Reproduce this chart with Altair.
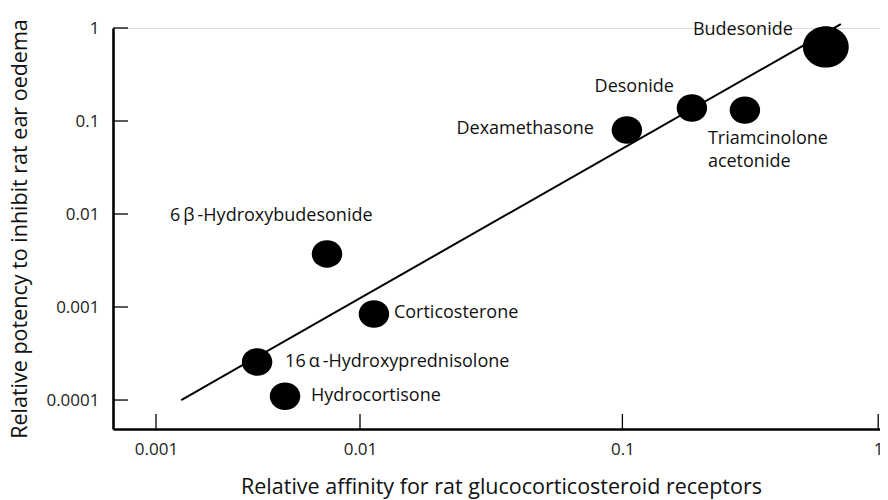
import altair as alt
import pandas as pd

# ---- data ----
compounds = [
    "Budesonide", "Desonide", "Triamcinolone acetonide", "Dexamethasone",
    "6β-Hydroxybudesonide", "Corticosterone", "16α-Hydroxyprednisolone", "Hydrocortisone",
]
affinity = [0.596, 0.184, 0.293, 0.104, 0.00689, 0.0113, 0.00313, 0.00429]
potency = [0.625, 0.138, 0.131, 0.080, 0.00372, 0.000841, 0.000256, 0.000110]
label_text = [
    "Budesonide", "Desonide", "Triamcinolone\nacetonide", "Dexamethasone",
    "6\u2009β\u2009-Hydroxybudesonide", "Corticosterone", "16\u2009α\u2009-Hydroxyprednisolone", "Hydrocortisone",
]

fit_affinity = [0.00133, 0.68]
fit_potency = [0.0001, 1.1]

x_ticks = [0.001, 0.01, 0.1, 1]
y_ticks = [0.0001, 0.001, 0.01, 0.1, 1]

# ---- layout ----
W, H = 767, 401
FONT = "Open Sans"

pts = pd.DataFrame({"name": compounds, "aff": affinity, "pot": potency, "label": label_text})
fit = pd.DataFrame({"aff": fit_affinity, "pot": fit_potency})
xt = pd.DataFrame({"v": x_ticks})
yt = pd.DataFrame({"v": y_ticks})

# piecewise log scale: the printed axis is not a uniform log scale
xscale = alt.Scale(type="log", domain=[0.000615, 0.001, 0.01, 0.75, 1.02],
                   range=[0, 43, 247, 739, W], nice=False, zero=False)
yscale = alt.Scale(type="log", domain=[0.0000488, 1], nice=False, zero=False)

xaxis = alt.Axis(values=x_ticks, format="~g", tickSize=0, labelPadding=12, labelFontSize=17,
                 labelFont=FONT, labelColor="#222", domainColor="#000", domainWidth=2.6,
                 grid=False, title="Relative affinity for rat glucocorticosteroid receptors",
                 titleFont=FONT, titleFontSize=21.5, titleFontWeight="normal", titleColor="#111",
                 titlePadding=19, titleX=388)
yaxis = alt.Axis(values=y_ticks, format="~g", tickSize=0, labelPadding=14, labelFontSize=17,
                 labelFont=FONT, labelColor="#222", domainColor="#000", domainWidth=2.6,
                 grid=False, title="Relative potency to inhibit rat ear oedema",
                 titleFont=FONT, titleFontSize=21.5, titleFontWeight="normal", titleColor="#111",
                 titleX=-93, titleBaseline="middle")

line = alt.Chart(fit).mark_line(color="#000", strokeWidth=2, clip=False).encode(
    x=alt.X("aff:Q", scale=xscale, axis=xaxis),
    y=alt.Y("pot:Q", scale=yscale, axis=yaxis),
)

ellipse = "M-1,0A1,0.9,0,1,0,1,0A1,0.9,0,1,0,-1,0Z"
dots = alt.Chart(pts).mark_point(filled=True, shape=ellipse, color="#000", opacity=1).encode(
    x=alt.X("aff:Q", scale=xscale),
    y=alt.Y("pot:Q", scale=yscale),
    size=alt.condition(alt.datum.name == "Budesonide", alt.value(2100), alt.value(930)),
)

xtick_rules = alt.Chart(xt).mark_rule(color="#000", strokeWidth=1.3).encode(
    x=alt.X("v:Q", scale=xscale), y=alt.value(H), y2=alt.value(H - 15))
ytick_rules = alt.Chart(yt).mark_rule(color="#000", strokeWidth=1.3).encode(
    y=alt.Y("v:Q", scale=yscale), x=alt.value(0), x2=alt.value(15))

label_style = {
    "Budesonide": dict(align="right", dx=-33, dy=-17),
    "Desonide": dict(align="right", dx=-18, dy=-21),
    "Triamcinolone acetonide": dict(align="left", dx=-37, dy=20, baseline="top", lineBreak="\n", lineHeight=23),
    "Dexamethasone": dict(align="right", dx=-33, dy=-1),
    "6β-Hydroxybudesonide": dict(align="left", dx=-157, dy=-38),
    "Corticosterone": dict(align="left", dx=20, dy=-1),
    "16α-Hydroxyprednisolone": dict(align="left", dx=28, dy=0),
    "Hydrocortisone": dict(align="left", dx=26, dy=0),
}

labels = []
for name, st in label_style.items():
    kw = dict(baseline="middle", font=FONT, fontSize=18, color="#111")
    kw.update(st)
    labels.append(
        alt.Chart(pts).transform_filter(alt.datum.name == name).mark_text(**kw).encode(
            x=alt.X("aff:Q", scale=xscale),
            y=alt.Y("pot:Q", scale=yscale),
            text="label:N",
        )
    )

chart = alt.layer(line, xtick_rules, ytick_rules, dots, *labels).properties(
    width=W, height=H,
    autosize=alt.AutoSizeParams(type="none"),
    padding={"left": 105, "top": 20, "right": 0, "bottom": 71},
).configure_view(strokeWidth=0, stroke="transparent").configure_axis(grid=False).configure(background="white")

chart.save("out.html", embed_options={"renderer": "svg", "actions": False})
